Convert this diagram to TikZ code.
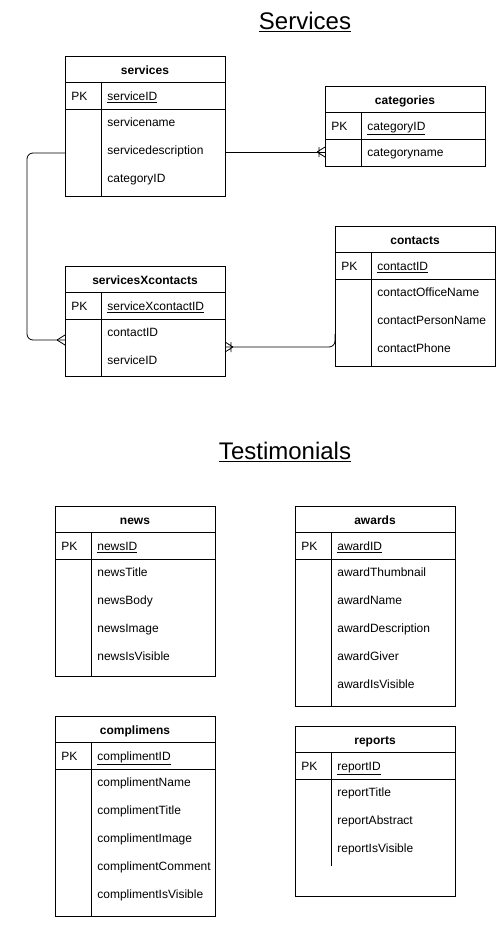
\documentclass[tikz,border=0pt]{standalone}
\usepackage{fontspec}
\setmainfont{Liberation Sans}
\begin{document}
\begin{tikzpicture}[x=1pt,y=-1pt,line width=0.8pt,
  tbl/.style={draw,anchor=north west,inner sep=0pt,minimum width=160pt},
  ttl/.style={font=\fontsize{12}{14}\selectfont\bfseries,inner sep=0pt,anchor=base},
  fld/.style={font=\fontsize{12}{14}\selectfont,anchor=base west,inner sep=0pt},
  head/.style={font=\fontsize{24}{28}\selectfont,inner sep=0pt,anchor=base},
  conn/.style={line width=0.8pt,rounded corners=6pt}]
\useasboundingbox (0,0) rectangle (496,940);
\newcommand\ertab[8]{%
  \node[tbl,minimum height=#4] (#1) at (#2,#3) {};
  \node[ttl] (#1-t) at (#2+80,#3+18.3) {#5};
  \draw (#2,#3+26) -- (#2+160,#3+26);
  \draw (#2,#3+53) -- (#2+160,#3+53);
  \draw (#2+36,#3+26) -- (#2+36,#3+#8);
  \node[fld] (#1-pkl) at (#2+6,#3+44.3) {PK};
  \node[fld] (#1-pk) at (#2+42,#3+44.3) {\underline{#6}};
  \foreach \f [count=\i] in {#7} {\node[fld] (#1-f\i) at (#2+42,#3+42.3+28*\i) {\f};}
}
% titles
\node[head] (tserv) at (305,29.5) {\underline{Services}};
\node[head] (ttest) at (285,459.5) {\underline{Testimonials}};
% Services tables
\ertab{services}{65}{56}{140pt}{services}{serviceID}{servicename,servicedescription,categoryID}{140}
\ertab{categories}{325}{86}{80pt}{categories}{categoryID}{categoryname}{80}
\ertab{contacts}{335}{226}{140pt}{contacts}{contactID}{contactOfficeName,contactPersonName,contactPhone}{140}
\ertab{sxc}{65}{266}{110pt}{servicesXcontacts}{serviceXcontactID}{contactID,serviceID}{110}
% Testimonials tables
\ertab{news}{55}{506}{170pt}{news}{newsID}{newsTitle,newsBody,newsImage,newsIsVisible}{170}
\ertab{awards}{295}{506}{200pt}{awards}{awardID}{awardThumbnail,awardName,awardDescription,awardGiver,awardIsVisible}{200}
\ertab{compl}{55}{716}{200pt}{complimens}{complimentID}{complimentName,complimentTitle,complimentImage,complimentComment,complimentIsVisible}{200}
\ertab{reports}{295}{726}{170pt}{reports}{reportID}{reportTitle,reportAbstract,reportIsVisible}{140}
% connectors
\coordinate (c1) at (325,152);
\coordinate (c2) at (65,340);
\coordinate (c3) at (225,347);
\draw[conn] (services.east |- c1) -- (c1);
\draw (317,152) -- (325,147) (317,152) -- (325,157) (319,147) -- (319,157);
\draw[conn] (services.west |- 0,153) -- (27,153) -- (27,340) -- (c2);
\draw (57,340) -- (65,335) (57,340) -- (65,345);
\draw[conn] (contacts.west |- 0,334) -- (335,347) -- (c3);
\draw (233,347) -- (225,342) (233,347) -- (225,352) (231,342) -- (231,352);
\end{tikzpicture}
\end{document}
